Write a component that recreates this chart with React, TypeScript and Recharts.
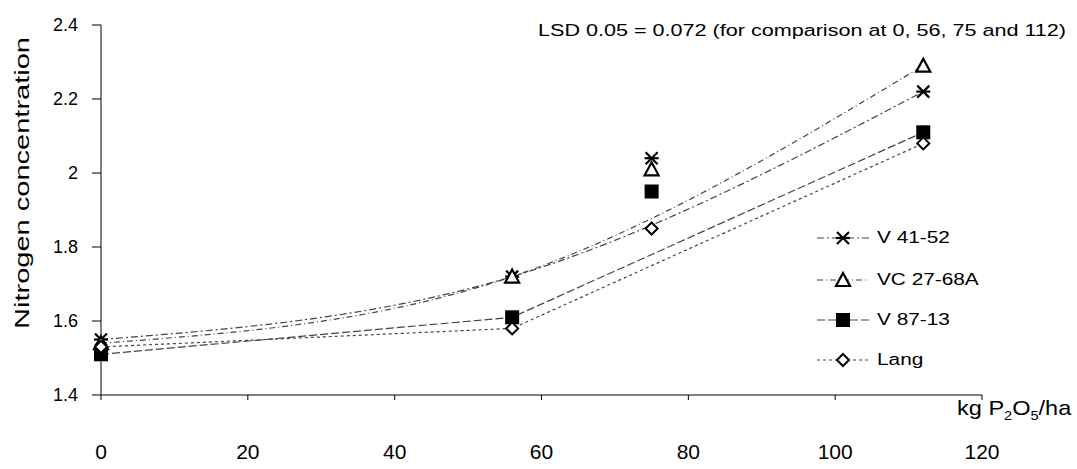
import React from 'react';
import { ComposedChart, Line, Scatter, XAxis, YAxis } from 'recharts';

const doses = [0, 56, 75, 112];
const xTicks = [0, 20, 40, 60, 80, 100, 120];
const yTicks = [1.4, 1.6, 1.8, 2, 2.2, 2.4];

const v4152 = [1.55, 1.72, 2.04, 2.22];
const vc2768a = [1.54, 1.72, 2.01, 2.29];
const v8713 = [1.51, 1.61, 1.95, 2.11];
const lang = [1.53, 1.58, 1.85, 2.08];

const series = [
  { key: 'v4152', name: 'V 41-52', values: v4152, marker: 'star', dash: '7 3 2 3', curve: 'natural' },
  { key: 'vc2768a', name: 'VC 27-68A', values: vc2768a, marker: 'triangle', dash: '6 3 1 3', curve: 'natural' },
  { key: 'v8713', name: 'V 87-13', values: v8713, marker: 'square', dash: '8 3', curve: 'linear' },
  { key: 'lang', name: 'Lang', values: lang, marker: 'diamond', dash: '3 3', curve: 'linear' },
];

// the trend curves skip the 75 kg dose
const data = doses.map((x, i) => {
  const row: Record<string, number | null> = { x };
  series.forEach((s) => {
    row[s.key] = s.values[i];
    row[s.key + 'Trend'] = x === 75 ? null : s.values[i];
  });
  return row;
});

const FONT = '"Liberation Sans", Arial, sans-serif';

const Marker = ({ type, cx, cy }: { type: string; cx: number; cy: number }) => {
  if (type === 'star') {
    return (
      <g stroke="#000" strokeWidth={2.2}>
        <line x1={cx - 6} y1={cy - 6} x2={cx + 6} y2={cy + 6} />
        <line x1={cx - 6} y1={cy + 6} x2={cx + 6} y2={cy - 6} />
        <line x1={cx - 7} y1={cy} x2={cx + 7} y2={cy} />
      </g>
    );
  }
  if (type === 'triangle') {
    return (
      <polygon
        points={`${cx},${cy - 7} ${cx - 7},${cy + 6} ${cx + 7},${cy + 6}`}
        fill="#fff"
        stroke="#000"
        strokeWidth={2.2}
      />
    );
  }
  if (type === 'square') {
    return <rect x={cx - 7} y={cy - 7} width={14} height={14} fill="#000" />;
  }
  return (
    <polygon
      points={`${cx},${cy - 6} ${cx + 6},${cy} ${cx},${cy + 6} ${cx - 6},${cy}`}
      fill="#fff"
      stroke="#000"
      strokeWidth={2}
    />
  );
};

const legendTops = [226, 268, 308, 348];

const App = () => {
  return (
    <div style={{ position: 'absolute', left: 0, top: 0, width: 1077, height: 469, background: '#fff', fontFamily: FONT }}>
      <ComposedChart
        width={1077}
        height={469}
        data={data}
        margin={{ top: 25, right: 95, left: 0, bottom: 0 }}
      >
        <XAxis
          dataKey="x"
          type="number"
          domain={[0, 120]}
          ticks={xTicks}
          height={74}
          tickSize={5}
          tickMargin={44}
          stroke="#000"
          tick={{ fill: '#000', fontSize: 21, fontFamily: FONT }}
        />
        <YAxis
          type="number"
          domain={[1.4, 2.4]}
          ticks={yTicks}
          width={101}
          tickSize={9}
          tickMargin={14}
          stroke="#000"
          tick={{ fill: '#000', fontSize: 18, fontFamily: FONT }}
        />
        {series.map((s) => (
          <Line
            key={s.key + 'Trend'}
            dataKey={s.key + 'Trend'}
            type={s.curve as any}
            connectNulls
            stroke="#444"
            strokeWidth={1.2}
            strokeDasharray={s.dash}
            dot={false}
            activeDot={false}
            isAnimationActive={false}
          />
        ))}
        {series.map((s) => (
          <Scatter
            key={s.key}
            dataKey={s.key}
            isAnimationActive={false}
            shape={(p: any) => <Marker type={s.marker} cx={p.cx} cy={p.cy} />}
          />
        ))}
      </ComposedChart>

      <svg width={1077} height={469} style={{ position: 'absolute', left: 0, top: 0, pointerEvents: 'none' }}>
        <text
          x={22}
          y={183}
          transform="rotate(-90 22 183)"
          textAnchor="middle"
          dominantBaseline="central"
          fontSize={20}
          fontFamily={FONT}
          fill="#000"
          textLength={292}
          lengthAdjust="spacingAndGlyphs"
        >
          Nitrogen concentration
        </text>
        <text
          x={538}
          y={36}
          fontSize={16}
          fontFamily={FONT}
          fill="#000"
          textLength={528}
          lengthAdjust="spacingAndGlyphs"
        >
          LSD 0.05 = 0.072 (for comparison at 0, 56, 75 and 112)
        </text>
      </svg>

      <div
        style={{ position: 'absolute', left: 957, top: 396, fontSize: 21, color: '#000', whiteSpace: 'nowrap', transform: 'scaleX(1.12)', transformOrigin: 'left top' }}
      >
        kg P<sub style={{ fontSize: 13 }}>2</sub>O<sub style={{ fontSize: 13 }}>5</sub>/ha
      </div>

      {series.map((s, i) => (
        <div
          key={s.key}
          style={{ position: 'absolute', left: 815, top: legendTops[i], height: 24, display: 'flex', alignItems: 'center', fontSize: 16, color: '#000', whiteSpace: 'nowrap' }}
        >
          <svg width={56} height={24}>
            <line x1={2} y1={12} x2={54} y2={12} stroke="#444" strokeWidth={1.2} strokeDasharray={s.dash} />
            <Marker type={s.marker} cx={28} cy={12} />
          </svg>
          <span style={{ marginLeft: 6, display: 'inline-block', transform: 'scaleX(1.3)', transformOrigin: 'left center' }}>{s.name}</span>
        </div>
      ))}
    </div>
  );
};

export default App;
